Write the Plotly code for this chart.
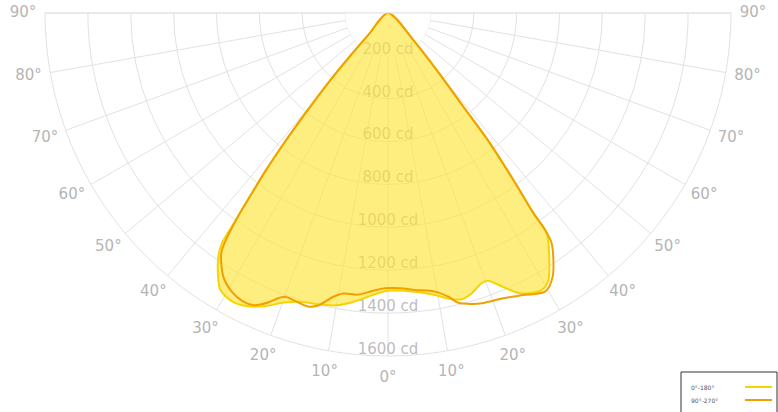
import plotly.graph_objects as go
import numpy as np

# ---------------- data (signed angle: negative = left half, intensity in cd) ----------------
Y_ANGLE = [-45, -42.0, -41.4, -40.7, -39.9, -39.2, -38.5, -37.8, -37.0, -36.3, -35.8,
           -34.85, -32.8, -31.2, -28.5, -25.5, -22.5, -19.8, -16.95, -13.8, -10.6, -7.15,
           -4.2, -1.0, 0.8, 5.5, 9.5, 12.5, 14.4, 16.6, 19.1, 20.5, 21.85, 25.2, 29.0,
           31.0, 33.15, 35.8, 36.0, 36.9, 38.05, 38.8, 40.5, 43.1, 45]
Y_CD = [0, 134, 267, 401, 534, 667, 799, 932, 1065, 1197, 1325,
        1385, 1463, 1510, 1529, 1516, 1479, 1435, 1408, 1398, 1388, 1361,
        1328, 1300, 1295, 1306, 1334, 1368, 1379, 1365, 1334, 1334, 1362, 1445, 1478,
        1453, 1376, 1266, 1154, 974, 772, 561, 350, 173, 0]

O_ANGLE = [-45, -42.0, -41.4, -40.7, -39.9, -39.2, -38.5, -37.8, -37.0, -36.3,
           -34.86, -31.99, -29.3, -26.7, -24.8, -22.5, -21.1, -19.95, -18.26, -15.25,
           -13.46, -10.9, -9.05, -6.08, -3.03, -0.62, 2.5, 5.57, 9.57, 12.0, 13.64,
           16.05, 18.5, 22.0, 25.6, 29.4, 31.98, 35.4, 35.9, 36.0, 36.9, 38.05, 38.8,
           40.5, 43.1, 45]
O_CD = [0, 134, 267, 401, 534, 667, 799, 932, 1065, 1197,
        1359, 1450, 1490, 1506, 1501, 1462, 1426, 1408, 1410, 1419,
        1403, 1348, 1325, 1321, 1297, 1284, 1285, 1298, 1318, 1353, 1391,
        1412, 1425, 1435, 1459, 1492, 1450, 1318, 1250, 1154, 974, 772, 561,
        350, 173, 0]

RADIAL_TICKS = [200, 400, 600, 800, 1000, 1200, 1400, 1600]
RADIAL_LABELS = [f"{v} cd" for v in RADIAL_TICKS]
ANGLE_TICKS = list(range(-90, 91, 10))
ANGLE_LABELS = [f"{abs(a)}°" for a in ANGLE_TICKS]
R_MAX = 1600
HOLE_CD = 200
RADIAL_LABEL_SHIFT = 28     # label sits slightly inside its circle

SERIES_NAMES = ["0°-180°", "90°-270°"]
YELLOW = "#f5d400"
ORANGE = "#f0a000"
FILL = "rgba(253,228,60,0.66)"
GRID = "#e2e2e2"
LABEL = "#b5b5b5"
FONT = "DejaVu Sans"


def to_theta(a):
    return [270 + v for v in a]


fig = go.Figure()

# white disk hiding the grid inside the first circle
arc = np.linspace(-90, 90, 91)
fig.add_trace(go.Scatterpolar(r=[HOLE_CD] * len(arc), theta=to_theta(arc), mode="lines",
                              fill="toself", fillcolor="white", line=dict(width=0, color="white"),
                              hoverinfo="skip", showlegend=False))

# radial labels (below the semi-transparent fill)
fig.add_trace(go.Scatterpolar(r=[v - RADIAL_LABEL_SHIFT for v in RADIAL_TICKS],
                              theta=[270] * len(RADIAL_TICKS), mode="text",
                              text=RADIAL_LABELS, textposition="middle center",
                              textfont=dict(family=FONT, size=15, color="#bdbdbd"),
                              hoverinfo="skip", showlegend=False))

fig.add_trace(go.Scatterpolar(r=Y_CD, theta=to_theta(Y_ANGLE), mode="lines", name=SERIES_NAMES[0],
                              line=dict(color=YELLOW, width=2, shape="spline", smoothing=0.8),
                              fill="toself", fillcolor=FILL, showlegend=False))
fig.add_trace(go.Scatterpolar(r=O_CD, theta=to_theta(O_ANGLE), mode="lines", name=SERIES_NAMES[1],
                              line=dict(color=ORANGE, width=2, shape="spline", smoothing=0.8),
                              showlegend=False))

# angular labels on a ring just outside the outer circle (second, invisible polar)
fig.add_trace(go.Scatterpolar(r=[1] * len(ANGLE_TICKS), theta=to_theta(ANGLE_TICKS), subplot="polar2",
                              mode="text", text=ANGLE_LABELS, textposition="middle center",
                              textfont=dict(family=FONT, size=15, color=LABEL), cliponaxis=False,
                              hoverinfo="skip", showlegend=False))

W, H = 778, 412
cx, top, R = 388, 13, 343
R_LAB = 365
hidden = dict(visible=False, showgrid=False, showline=False, showticklabels=False, ticks="")
fig.update_layout(
    width=W, height=H,
    margin=dict(l=0, r=0, t=0, b=0),
    paper_bgcolor="white",
    showlegend=False,
    polar=dict(
        domain=dict(x=[(cx - R) / W, (cx + R) / W], y=[1 - (top + R) / H, 1 - top / H]),
        sector=[180, 360],
        bgcolor="white",
        radialaxis=dict(range=[0, R_MAX], tickvals=RADIAL_TICKS, showticklabels=False,
                        ticks="", showline=False, gridcolor=GRID, gridwidth=1),
        angularaxis=dict(tickmode="array", tickvals=to_theta(ANGLE_TICKS), ticktext=ANGLE_LABELS,
                         showticklabels=False,
                         ticks="", showline=True, linecolor=GRID, linewidth=1,
                         gridcolor=GRID, gridwidth=1),
    ),
    polar2=dict(
        domain=dict(x=[(cx - R_LAB) / W, (cx + R_LAB) / W], y=[1 - (top + R_LAB) / H, 1 - top / H]),
        sector=[180, 360],
        bgcolor="rgba(0,0,0,0)",
        radialaxis=dict(range=[0, 1], **hidden),
        angularaxis=dict(**hidden),
    ),
)


def px(x):
    return x / W


def py(y):
    return 1 - y / H


# legend box (bottom right)
fig.add_shape(type="rect", xref="paper", yref="paper", x0=px(681), x1=px(777), y0=py(422), y1=py(372),
              line=dict(color="#333333", width=1), fillcolor="white")
for i, (name, col) in enumerate(zip(SERIES_NAMES, [YELLOW, ORANGE])):
    yy = 387 + i * 13
    fig.add_annotation(xref="paper", yref="paper", x=px(689), y=py(yy), text=name, showarrow=False,
                       xanchor="left", yanchor="middle", font=dict(family=FONT, size=6, color="#555555"))
    fig.add_shape(type="line", xref="paper", yref="paper", x0=px(745), x1=px(772), y0=py(yy), y1=py(yy),
                  line=dict(color=col, width=2))

fig.write_html("out.html", config={"displayModeBar": False},
               post_script="document.body.style.margin='0';document.body.style.overflow='hidden';")
